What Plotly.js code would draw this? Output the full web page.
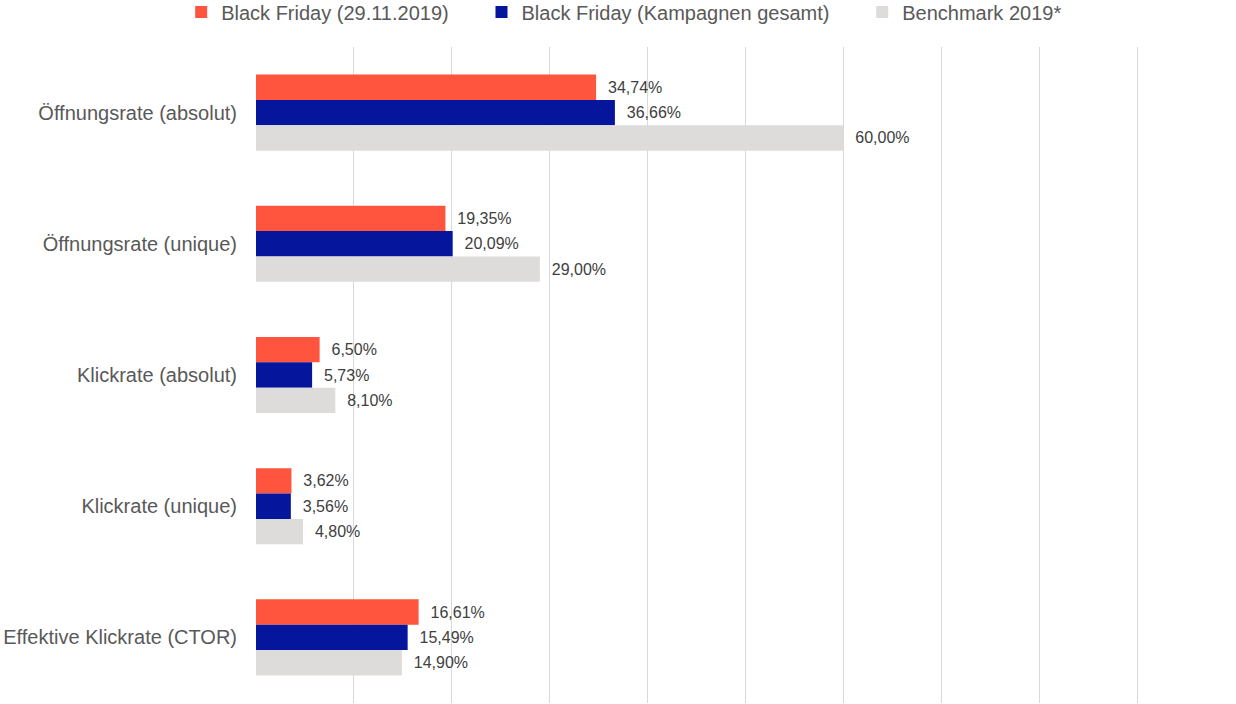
<!DOCTYPE html>
<html>
<head>
<meta charset="utf-8">
<script src="https://cdn.plot.ly/plotly-3.0.1.min.js"></script>
<style>html,body{margin:0;padding:0;background:#fff;}#chart{width:1236px;height:704px;}</style>
</head>
<body>
<div id="chart"></div>
<script>
const categories = ["Öffnungsrate (absolut)", "Öffnungsrate (unique)", "Klickrate (absolut)", "Klickrate (unique)", "Effektive Klickrate (CTOR)"];
const seriesNames = ["Black Friday (29.11.2019)", "Black Friday (Kampagnen gesamt)", "Benchmark 2019*"];
const blackFriday = [34.74, 19.35, 6.50, 3.62, 16.61];
const kampagnenGesamt = [36.66, 20.09, 5.73, 3.56, 15.49];
const benchmark = [60.00, 29.00, 8.10, 4.80, 14.90];
const colors = ["#FF553F", "#06169C", "#DDDCDA"];

const allSeries = [blackFriday, kampagnenGesamt, benchmark];
const pad = '\u00A0'.repeat(5);
const traces = allSeries.map((vals, i) => ({
  type: 'bar',
  orientation: 'h',
  name: seriesNames[i] + (i < allSeries.length - 1 ? pad : ''),
  y: categories,
  x: vals,
  marker: {color: colors[i]},
  texttemplate: '\u00A0\u00A0%{x:.2f}%',
  textposition: 'outside',
  textfont: {family: 'Liberation Sans, Arial, sans-serif', size: 16, color: '#404040'},
  cliponaxis: false,
  hoverinfo: 'none'
}));

const layout = {
  width: 1236, height: 704,
  margin: {l: 256, r: 1, t: 47, b: 1},
  paper_bgcolor: '#fff', plot_bgcolor: '#fff',
  separators: ',.',
  barmode: 'group',
  bargap: 0.42,
  bargroupgap: 0,
  font: {family: 'Liberation Sans, Arial, sans-serif', color: '#595959'},
  showlegend: true,
  legend: {
    orientation: 'h', xref: 'container', yref: 'container',
    x: 0.505, xanchor: 'center', y: 0.983, yanchor: 'middle',
    font: {size: 20, color: '#595959'},
    itemwidth: 30, tracegroupgap: 0, traceorder: 'normal'
  },
  xaxis: {
    range: [0, 100], dtick: 10, showticklabels: false,
    showgrid: true, gridcolor: '#D9D9D9', gridwidth: 1,
    zeroline: false, showline: false, fixedrange: true
  },
  yaxis: {
    type: 'category', autorange: 'reversed',
    showgrid: false, zeroline: false, showline: false,
    ticks: '', ticklabelstandoff: 18,
    tickfont: {size: 20, color: '#595959'}, automargin: false
  }
};

Plotly.newPlot('chart', traces, layout, {displayModeBar: false, staticPlot: true});
</script>
</body>
</html>
